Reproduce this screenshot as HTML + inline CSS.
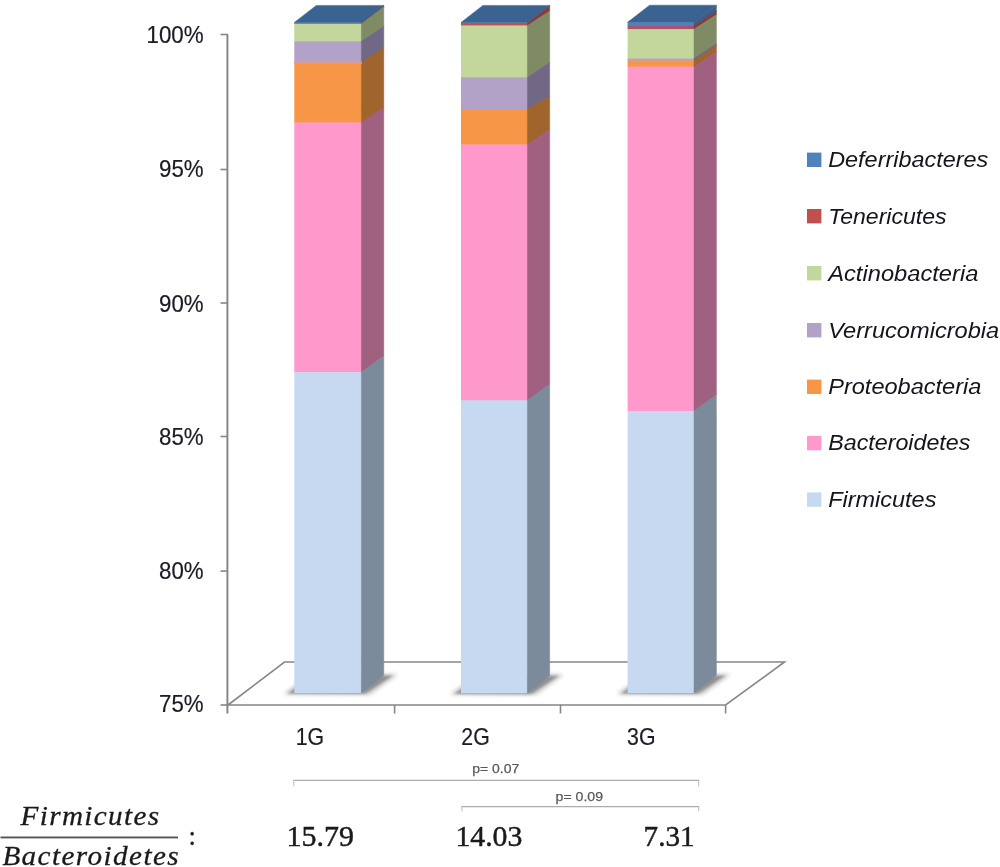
<!DOCTYPE html>
<html lang="en"><head><meta charset="utf-8"><title>Firmicutes / Bacteroidetes ratio</title>
<style>html,body{margin:0;padding:0;background:#fff}body{width:1000px;height:867px;overflow:hidden}svg{display:block}.ax{font-family:"Liberation Sans",sans-serif;fill:#1c1c28;stroke:#1c1c28;stroke-width:0.2}.lg{font-family:"Liberation Sans",sans-serif;font-style:italic;fill:#15151f}.mt{font-family:"Liberation Serif",serif;fill:#1a1a1a}.pv{font-family:"Liberation Sans",sans-serif;fill:#5a5a5a;stroke:#5a5a5a;stroke-width:0.25}</style></head><body>
<svg width="1000" height="867" viewBox="0 0 1000 867">
<defs><filter id="sh" x="-20%" y="-40%" width="140%" height="180%"><feGaussianBlur stdDeviation="1.3"/></filter><filter id="sh2" x="-20%" y="-40%" width="140%" height="180%"><feGaussianBlur stdDeviation="2.2"/></filter></defs>
<rect width="1000" height="867" fill="#fff"/>
<g fill="none" stroke="#878787" stroke-width="1.6">
<polygon points="228,705 284.5,662 784.5,662 725.6,705" fill="#fff"/>
<path d="M227.4,34.5V713.5" stroke-width="2"/>
<path d="M220.5,34.5H228"/>
<path d="M220.5,169.5H228"/>
<path d="M220.5,303.0H228"/>
<path d="M220.5,436.5H228"/>
<path d="M220.5,571.1H228"/>
<path d="M220.5,705.0H228"/>
<path d="M394.6,705V713.5"/>
<path d="M560.5,705V713.5"/>
<path d="M725.6,705V713.5"/>
</g>
<g fill="#000" opacity="0.24" filter="url(#sh2)">
<polygon points="283.3,694.2 369.8,694.6 397.8,674.3 311.3,674.1"/>
<polygon points="450.0,694.4 535.8,694.8 563.7,674.5 478.0,674.3"/>
<polygon points="616.6,694.2 702.4,694.6 730.4,674.3 644.6,674.1"/>
</g>
<g fill="#000" opacity="0.25" filter="url(#sh)">
<polygon points="287.3,693.8 364.8,694.1 392.8,675.6 314.3,675.6"/>
<polygon points="454.0,694.0 530.8,694.3 558.7,675.8 481.0,675.8"/>
<polygon points="620.6,693.8 697.4,694.1 725.4,675.6 647.6,675.6"/>
</g>
<rect x="294.3" y="22.4" width="67.5" height="1.0" fill="#4F81BD"/>
<polygon points="361.4,22.4 383.8,5.4 383.8,6.4 361.4,23.4" fill="#38608F" stroke="#38608F" stroke-width="0.5" stroke-linejoin="round"/>
<rect x="294.3" y="23.0" width="67.5" height="1.2" fill="#C0504D"/>
<polygon points="361.4,23.0 383.8,6.0 383.8,7.2 361.4,24.2" fill="#8A3A38" stroke="#8A3A38" stroke-width="0.5" stroke-linejoin="round"/>
<rect x="294.3" y="23.8" width="67.5" height="17.8" fill="#C3D69B"/>
<polygon points="361.4,23.8 383.8,6.8 383.8,27.0 361.4,41.6" fill="#7F8B64" stroke="#7F8B64" stroke-width="0.5" stroke-linejoin="round"/>
<rect x="294.3" y="41.2" width="67.5" height="21.7" fill="#B3A2C7"/>
<polygon points="361.4,41.2 383.8,26.6 383.8,48.2 361.4,62.9" fill="#716885" stroke="#716885" stroke-width="0.5" stroke-linejoin="round"/>
<rect x="294.3" y="62.5" width="67.5" height="60.4" fill="#F79646"/>
<polygon points="361.4,62.5 383.8,47.8 383.8,107.9 361.4,122.9" fill="#A0642D" stroke="#A0642D" stroke-width="0.5" stroke-linejoin="round"/>
<rect x="294.3" y="122.5" width="67.5" height="250.1" fill="#FF99CC"/>
<polygon points="361.4,122.5 383.8,107.5 383.8,356.3 361.4,372.6" fill="#A06080" stroke="#A06080" stroke-width="0.5" stroke-linejoin="round"/>
<rect x="294.3" y="372.2" width="67.5" height="320.8" fill="#C6D9F1"/>
<polygon points="361.4,372.2 383.8,355.9 383.8,675.1 361.4,693.0" fill="#7C8B9B" stroke="#7C8B9B" stroke-width="0.5" stroke-linejoin="round"/>
<rect x="294.3" y="61.4" width="67.5" height="2.6" fill="#D79C8E"/>
<polygon points="294.3,22.4 361.8,22.4 383.8,5.4 316.3,5.4" fill="#3B6392" stroke="#3B6392" stroke-width="0.5" stroke-linejoin="round"/>
<rect x="461.0" y="22.4" width="66.8" height="1.0" fill="#4F81BD"/>
<polygon points="527.4,22.4 549.7,5.4 549.7,6.4 527.4,23.4" fill="#38608F" stroke="#38608F" stroke-width="0.5" stroke-linejoin="round"/>
<rect x="461.0" y="23.0" width="66.8" height="2.9" fill="#C0504D"/>
<polygon points="527.4,23.0 549.7,6.0 549.7,11.4 527.4,25.9" fill="#8A3A38" stroke="#8A3A38" stroke-width="0.5" stroke-linejoin="round"/>
<rect x="461.0" y="25.5" width="66.8" height="52.1" fill="#C3D69B"/>
<polygon points="527.4,25.5 549.7,11.0 549.7,62.8 527.4,77.6" fill="#7F8B64" stroke="#7F8B64" stroke-width="0.5" stroke-linejoin="round"/>
<rect x="461.0" y="77.2" width="66.8" height="32.2" fill="#B3A2C7"/>
<polygon points="527.4,77.2 549.7,62.4 549.7,96.8 527.4,109.4" fill="#716885" stroke="#716885" stroke-width="0.5" stroke-linejoin="round"/>
<rect x="461.0" y="109.0" width="66.8" height="35.9" fill="#F79646"/>
<polygon points="527.4,109.0 549.7,96.4 549.7,129.8 527.4,144.9" fill="#A0642D" stroke="#A0642D" stroke-width="0.5" stroke-linejoin="round"/>
<rect x="461.0" y="144.5" width="66.8" height="256.3" fill="#FF99CC"/>
<polygon points="527.4,144.5 549.7,129.4 549.7,384.4 527.4,400.8" fill="#A06080" stroke="#A06080" stroke-width="0.5" stroke-linejoin="round"/>
<rect x="461.0" y="400.4" width="66.8" height="292.8" fill="#C6D9F1"/>
<polygon points="527.4,400.4 549.7,384.0 549.7,675.3 527.4,693.2" fill="#7C8B9B" stroke="#7C8B9B" stroke-width="0.5" stroke-linejoin="round"/>
<polygon points="461.0,22.4 527.8,22.4 549.7,5.4 482.9,5.4" fill="#3B6392" stroke="#3B6392" stroke-width="0.5" stroke-linejoin="round"/>
<rect x="627.6" y="22.2" width="66.8" height="4.0" fill="#4F81BD"/>
<polygon points="694.0,22.2 716.4,5.2 716.4,11.7 694.0,26.2" fill="#38608F" stroke="#38608F" stroke-width="0.5" stroke-linejoin="round"/>
<rect x="627.6" y="25.8" width="66.8" height="3.8" fill="#A9546C"/>
<polygon points="694.0,25.8 716.4,11.3 716.4,15.1 694.0,29.6" fill="#8A3A38" stroke="#8A3A38" stroke-width="0.5" stroke-linejoin="round"/>
<rect x="627.6" y="29.2" width="66.8" height="29.7" fill="#C3D69B"/>
<polygon points="694.0,29.2 716.4,14.7 716.4,44.2 694.0,58.9" fill="#7F8B64" stroke="#7F8B64" stroke-width="0.5" stroke-linejoin="round"/>
<rect x="627.6" y="58.5" width="66.8" height="2.4" fill="#B3A2C7"/>
<polygon points="694.0,58.5 716.4,43.8 716.4,46.2 694.0,60.9" fill="#716885" stroke="#716885" stroke-width="0.5" stroke-linejoin="round"/>
<rect x="627.6" y="60.5" width="66.8" height="6.5" fill="#F79646"/>
<polygon points="694.0,60.5 716.4,45.8 716.4,52.3 694.0,67.0" fill="#A0642D" stroke="#A0642D" stroke-width="0.5" stroke-linejoin="round"/>
<rect x="627.6" y="66.6" width="66.8" height="344.8" fill="#FF99CC"/>
<polygon points="694.0,66.6 716.4,51.9 716.4,394.9 694.0,411.4" fill="#A06080" stroke="#A06080" stroke-width="0.5" stroke-linejoin="round"/>
<rect x="627.6" y="411.0" width="66.8" height="282.0" fill="#C6D9F1"/>
<polygon points="694.0,411.0 716.4,394.5 716.4,675.1 694.0,693.0" fill="#7C8B9B" stroke="#7C8B9B" stroke-width="0.5" stroke-linejoin="round"/>
<polygon points="627.6,22.2 694.4,22.2 716.4,5.2 649.6,5.2" fill="#3B6392" stroke="#3B6392" stroke-width="0.5" stroke-linejoin="round"/>
<text class="ax" x="146.5" y="43.2" font-size="23.4" textLength="57.2" lengthAdjust="spacingAndGlyphs">100%</text>
<text class="ax" x="159.1" y="176.8" font-size="23.4" textLength="44.6" lengthAdjust="spacingAndGlyphs">95%</text>
<text class="ax" x="159.1" y="311.8" font-size="23.4" textLength="44.6" lengthAdjust="spacingAndGlyphs">90%</text>
<text class="ax" x="159.1" y="444.8" font-size="23.4" textLength="44.6" lengthAdjust="spacingAndGlyphs">85%</text>
<text class="ax" x="159.1" y="578.6" font-size="23.4" textLength="44.6" lengthAdjust="spacingAndGlyphs">80%</text>
<text class="ax" x="159.1" y="712.3" font-size="23.4" textLength="44.6" lengthAdjust="spacingAndGlyphs">75%</text>
<text class="ax" x="295.7" y="744.8" font-size="23.4" textLength="28.4" lengthAdjust="spacingAndGlyphs">1G</text>
<text class="ax" x="461.3" y="744.8" font-size="23.4" textLength="28.4" lengthAdjust="spacingAndGlyphs">2G</text>
<text class="ax" x="627.1" y="744.8" font-size="23.4" textLength="28.4" lengthAdjust="spacingAndGlyphs">3G</text>
<rect x="807" y="152.6" width="14.4" height="14.4" fill="#4F81BD"/>
<text class="lg" x="828.2" y="167.1" font-size="22.6" textLength="160" lengthAdjust="spacingAndGlyphs">Deferribacteres</text>
<rect x="807" y="209.0" width="14.4" height="14.4" fill="#C0504D"/>
<text class="lg" x="828.2" y="223.5" font-size="22.6" textLength="118.4" lengthAdjust="spacingAndGlyphs">Tenericutes</text>
<rect x="807" y="266.0" width="14.4" height="14.4" fill="#C3D69B"/>
<text class="lg" x="828.2" y="280.5" font-size="22.6" textLength="150.2" lengthAdjust="spacingAndGlyphs">Actinobacteria</text>
<rect x="807" y="323.0" width="14.4" height="14.4" fill="#B3A2C7"/>
<text class="lg" x="828.2" y="337.5" font-size="22.6" textLength="171" lengthAdjust="spacingAndGlyphs">Verrucomicrobia</text>
<rect x="807" y="379.6" width="14.4" height="14.4" fill="#F79646"/>
<text class="lg" x="828.2" y="394.1" font-size="22.6" textLength="153.2" lengthAdjust="spacingAndGlyphs">Proteobacteria</text>
<rect x="807" y="435.9" width="14.4" height="14.4" fill="#FF99CC"/>
<text class="lg" x="828.2" y="450.4" font-size="22.6" textLength="142.2" lengthAdjust="spacingAndGlyphs">Bacteroidetes</text>
<rect x="807" y="492.4" width="14.4" height="14.4" fill="#C6D9F1"/>
<text class="lg" x="828.2" y="506.9" font-size="22.6" textLength="108.2" lengthAdjust="spacingAndGlyphs">Firmicutes</text>
<g fill="none" stroke="#adadad" stroke-width="1.1">
<path d="M293.3,780.4H699.2M461.4,806.6H699.2"/>
<path d="M293.8,780.4V786.5M698.7,780.4V786.5M461.9,806.6V811.2M698.7,806.6V811.2" stroke="#c2c2c2"/>
</g>
<text class="pv" x="472.2" y="773.1" font-size="13" textLength="47" lengthAdjust="spacingAndGlyphs">p= 0.07</text>
<text class="pv" x="555.6" y="801.1" font-size="13" textLength="47.4" lengthAdjust="spacingAndGlyphs">p= 0.09</text>
<text class="mt" x="286.6" y="845.9" font-size="29.5" stroke="#1a1a1a" stroke-width="0.45" textLength="67.5" lengthAdjust="spacingAndGlyphs">15.79</text>
<text class="mt" x="455.4" y="845.9" font-size="29.5" stroke="#1a1a1a" stroke-width="0.45" textLength="67" lengthAdjust="spacingAndGlyphs">14.03</text>
<text class="mt" x="643.6" y="845.9" font-size="29.5" stroke="#1a1a1a" stroke-width="0.45" textLength="51" lengthAdjust="spacingAndGlyphs">7.31</text>
<text class="mt" transform="translate(20.6,824.8) scale(1.1,1)" font-size="26.5" font-style="italic" stroke="#1a1a1a" stroke-width="0.3" textLength="125.9" lengthAdjust="spacing">Firmicutes</text>
<rect x="0.5" y="836.5" width="177.5" height="1.9" fill="#555"/>
<text class="mt" transform="translate(2.4,864.8) scale(1.1,1)" font-size="26.5" font-style="italic" stroke="#1a1a1a" stroke-width="0.3" textLength="160.2" lengthAdjust="spacing">Bacteroidetes</text>
<text class="mt" x="188.5" y="845" font-size="26.5" stroke="#1a1a1a" stroke-width="0.3">:</text>
</svg></body></html>
